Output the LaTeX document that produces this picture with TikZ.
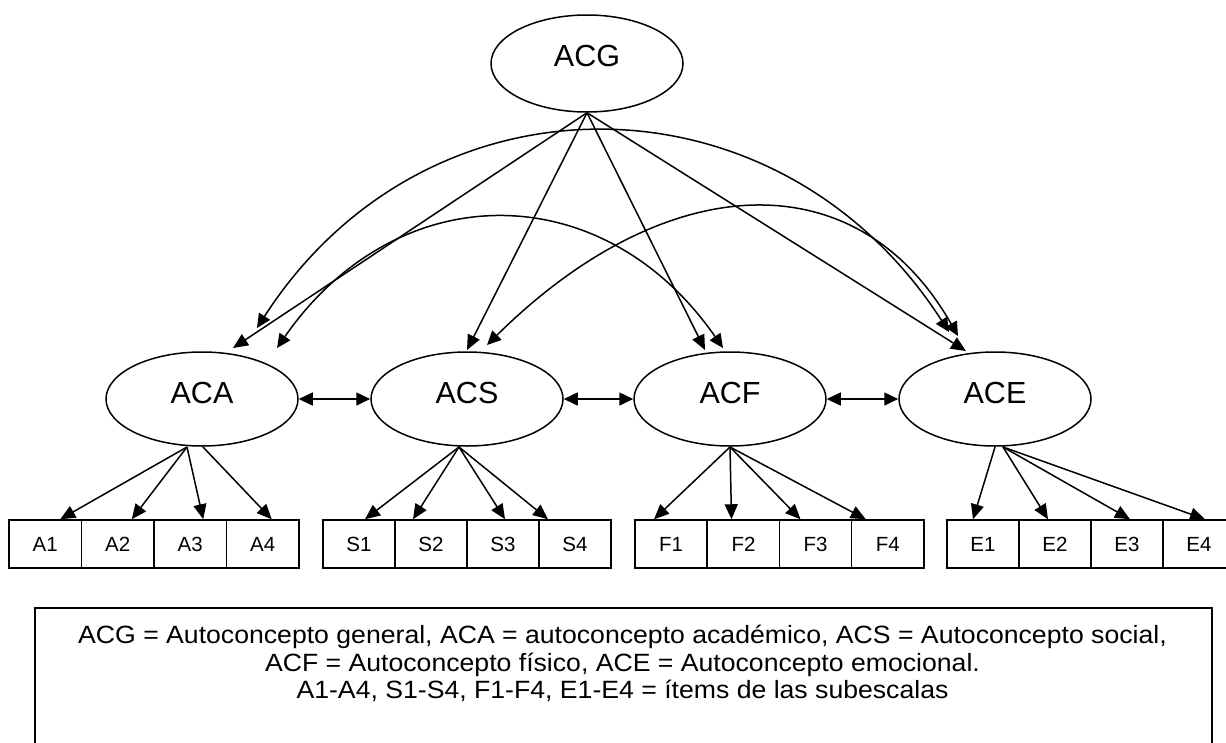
\documentclass[tikz,border=0pt]{standalone}
\usepackage{fontspec}
\setmainfont{Liberation Sans}
\newfontfamily\legendfont[FakeStretch=1.065]{Liberation Sans}
\usetikzlibrary{arrows.meta,shapes.geometric}
\begin{document}
\begin{tikzpicture}[x=1pt,y=-1pt,
  latent/.style={ellipse,draw,line width=1.5pt,minimum width=192pt,minimum height=94pt,inner sep=0pt},
  latlabel/.style={font=\fontsize{30.5}{30.5}\selectfont,inner sep=0pt},
  itembox/.style={rectangle,draw,line width=1.5pt,minimum width=72.3pt,minimum height=48pt,inner sep=0pt,font=\fontsize{20.5}{20.5}\selectfont},
  ar/.style={line width=1.5pt,-{Triangle[length=15pt,width=13pt]}},
  dar/.style={line width=1.5pt,{Triangle[length=14pt,width=13pt]}-{Triangle[length=14pt,width=13pt]}},
  legendtext/.style={font=\legendfont\fontsize{25}{28}\selectfont,anchor=base,inner sep=0pt}
]
\useasboundingbox (0,0) rectangle (1226,742);
\clip (0,0) rectangle (1226,742);

% latent variables
\node[latent,minimum height=97pt] (ACG) at (587,63.5) {};
\node[latlabel] (ACGt) at ([yshift=7.5pt]ACG.center) {ACG};
\node[latent] (ACA) at (202,399) {};
\node[latlabel] (ACAt) at ([yshift=6.5pt]ACA.center) {ACA};
\node[latent] (ACS) at (467,399) {};
\node[latlabel] (ACSt) at ([yshift=6.5pt]ACS.center) {ACS};
\node[latent] (ACF) at (730,399) {};
\node[latlabel] (ACFt) at ([yshift=6.5pt]ACF.center) {ACF};
\node[latent] (ACE) at (995,399) {};
\node[latlabel] (ACEt) at ([yshift=6.5pt]ACE.center) {ACE};

% items
\node[itembox] (A1) at (45.25,544) {A1};
\node[itembox] (A2) at (117.75,544) {A2};
\node[itembox] (A3) at (190.25,544) {A3};
\node[itembox] (A4) at (262.75,544) {A4};
\node[itembox] (S1) at (359,544) {S1};
\node[itembox] (S2) at (431,544) {S2};
\node[itembox] (S3) at (503,544) {S3};
\node[itembox] (S4) at (575,544) {S4};
\node[itembox] (F1) at (671,544) {F1};
\node[itembox] (F2) at (743.5,544) {F2};
\node[itembox] (F3) at (815.5,544) {F3};
\node[itembox] (F4) at (887.75,544) {F4};
\node[itembox] (E1) at (983,544) {E1};
\node[itembox] (E2) at (1055,544) {E2};
\node[itembox] (E3) at (1127,544) {E3};
\node[itembox] (E4) at (1199,544) {E4};

% origins and free ends
\coordinate (oA) at (187,447);
\coordinate (oA4) at (203,447);
\coordinate (oS) at (459,447);
\coordinate (oF) at (730,447);
\coordinate (oE1) at (995,447);
\coordinate (oE) at (1003,447);

\coordinate (gA) at (233,348);
\coordinate (gS) at (467,350);
\coordinate (gF) at (705,350);
\coordinate (gE) at (966,351);

\coordinate (aeA) at (257,328);
\coordinate (aeE) at (949,332);
\coordinate (afA) at (277,348);
\coordinate (afF) at (723,348);
\coordinate (seS) at (487,345);
\coordinate (seE) at (958,336);

% ACG to first-order factors
\draw[ar] (ACG.south) -- (gA);
\draw[ar] (ACG.south) -- (gS);
\draw[ar] (ACG.south) -- (gF);
\draw[ar] (ACG.south) -- (gE);

% correlations (arcs)
\draw[dar] (aeA) .. controls (427,64) and (779,68) .. (aeE);
\draw[dar] (afA) .. controls (397,175) and (603,175) .. (afF);
\draw[dar] (seS) .. controls (667,167) and (858,160) .. (seE);

% correlations between neighbours
\draw[dar] (ACA.east) -- (ACS.west);
\draw[dar] (ACS.east) -- (ACF.west);
\draw[dar] (ACF.east) -- (ACE.west);

% loadings
\draw[ar] (oA) -- ([xshift=15pt]A1.north);
\draw[ar] (oA) -- ([xshift=14pt]A2.north);
\draw[ar] (oA) -- ([xshift=13pt]A3.north);
\draw[ar] (oA4) -- ([xshift=9pt]A4.north);
\draw[ar] (oS) -- ([xshift=6pt]S1.north);
\draw[ar] (oS) -- ([xshift=-18pt]S2.north);
\draw[ar] (oS) -- ([xshift=2pt]S3.north);
\draw[ar] (oS) -- ([xshift=-27pt]S4.north);
\draw[ar] (oF) -- ([xshift=-17pt]F1.north);
\draw[ar] (oF) -- ([xshift=-12pt]F2.north);
\draw[ar] (oF) -- ([xshift=-15pt]F3.north);
\draw[ar] (oF) -- ([xshift=-22pt]F4.north);
\draw[ar] (oE1) -- ([xshift=-10pt]E1.north);
\draw[ar] (oE) -- ([xshift=-7pt]E2.north);
\draw[ar] (oE) -- ([xshift=3pt]E3.north);
\draw[ar] (oE) -- ([xshift=6pt]E4.north);

% legend
\node[draw,line width=1.6pt,anchor=north west,minimum width=1177pt,minimum height=170pt,inner sep=0pt] (legend) at (34,607) {};
\node[legendtext] (L1) at (622.5,643) {ACG = Autoconcepto general, ACA = autoconcepto académico, ACS = Autoconcepto social,};
\node[legendtext] (L2) at (622.5,671) {ACF = Autoconcepto físico, ACE = Autoconcepto emocional.};
\node[legendtext] (L3) at (622.5,698.5) {A1-A4, S1-S4, F1-F4, E1-E4 = ítems de las subescalas};
\end{tikzpicture}
\end{document}
